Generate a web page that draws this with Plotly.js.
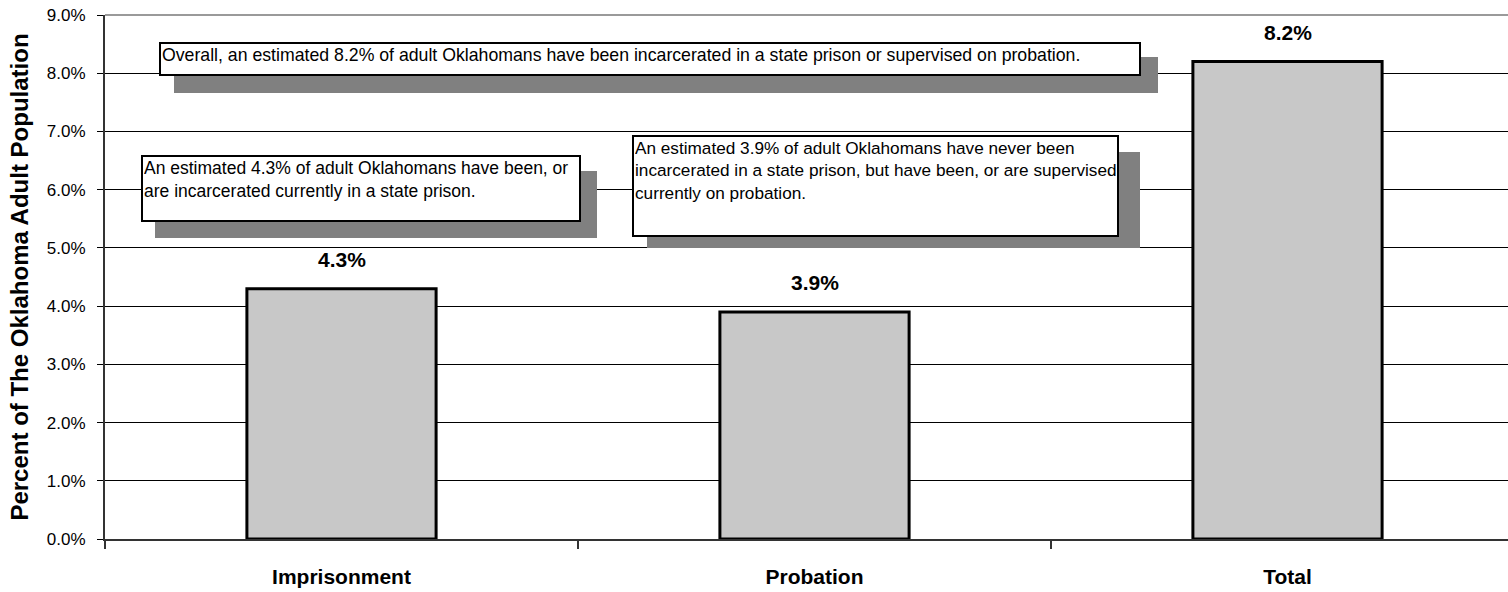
<!DOCTYPE html>
<html>
<head>
<meta charset="utf-8">
<script src="https://cdn.plot.ly/plotly-3.0.1.min.js"></script>
<style>
html,body{margin:0;padding:0;background:#fff;}
#chart{width:1508px;height:592px;}
</style>
</head>
<body>
<div id="chart"></div>
<script>
// ---- data ----
const categories = ['Imprisonment', 'Probation', 'Total'];
const values = [4.3, 3.9, 8.2];
const valueLabels = ['4.3%', '3.9%', '8.2%'];
const yTickValues = [0, 1, 2, 3, 4, 5, 6, 7, 8, 9];
const yTickLabels = ['0.0%', '1.0%', '2.0%', '3.0%', '4.0%', '5.0%', '6.0%', '7.0%', '8.0%', '9.0%'];
const noteTexts = [
  'Overall, an estimated 8.2% of adult Oklahomans have been incarcerated in a state prison or supervised on probation.',
  'An estimated 4.3% of adult Oklahomans have been, or<br>are incarcerated currently in a state prison.',
  'An estimated 3.9% of adult Oklahomans have never been<br>incarcerated in a state prison, but have been, or are supervised<br>currently on probation.'
];
const yTitle = 'Percent of The Oklahoma Adult Population';

// ---- layout helpers (pixel -> paper) ----
const W = 1508, H = 592;
const M = {l: 105, r: 0, t: 15, b: 53};
const PW = W - M.l - M.r, PH = H - M.t - M.b;
const px = x => (x - M.l) / PW;
const py = y => (H - M.b - y) / PH;

const FONT = '"Liberation Sans", Arial, sans-serif';

// note boxes: [left, top, right, bottom] in pixels, shadows likewise
const noteBoxes = [
  [159, 42, 1141, 76],
  [141, 155, 581, 222],
  [632, 135, 1119, 237]
];
const noteFontSizes = [17.7, 17.5, 17.2];
const shadowBoxes = [
  [174, 57, 1158, 93],
  [155, 171, 597, 238],
  [647, 152, 1140, 248]
];
const BW = 2, BP = 1;

const shapes = [
  {type: 'line', xref: 'paper', yref: 'paper', x0: 0, x1: 1, y0: 1, y1: 1,
   line: {color: '#9a9a9a', width: 2}, layer: 'above'}
];
shadowBoxes.forEach(b => shapes.push({
  type: 'rect', xref: 'paper', yref: 'paper',
  x0: px(b[0]), x1: px(b[2]), y0: py(b[3]), y1: py(b[1]),
  fillcolor: '#808080', line: {width: 0}, layer: 'above'
}));

const annotations = [];
noteBoxes.forEach((b, i) => annotations.push({
  xref: 'paper', yref: 'paper', x: px(b[0]), y: py(b[1]),
  xanchor: 'left', yanchor: 'top', align: 'left', valign: 'top',
  width: (b[2] - b[0]) - 2 * (BW + BP), height: (b[3] - b[1]) - 2 * (BW + BP),
  text: noteTexts[i], showarrow: false,
  bgcolor: '#ffffff', bordercolor: '#000000', borderwidth: BW, borderpad: BP,
  font: {family: FONT, size: noteFontSizes[i], color: '#000'}
}));
categories.forEach((c, i) => annotations.push({
  xref: 'x', yref: 'y', x: c, y: values[i], text: valueLabels[i],
  showarrow: false, yanchor: 'bottom', yshift: 16,
  font: {family: FONT, size: 21, color: '#000', weight: 'bold'}
}));

const trace = {
  type: 'bar', x: categories, y: values, width: 0.4,
  marker: {color: '#c8c8c8', line: {color: '#000', width: 3}},
  hoverinfo: 'skip'
};

const layout = {
  width: W, height: H,
  margin: M,
  paper_bgcolor: '#fff', plot_bgcolor: '#fff',
  showlegend: false,
  font: {family: FONT, color: '#000'},
  xaxis: {
    type: 'category', range: [-0.5, -0.5 + PW / 473],
    showline: true, linecolor: '#333', linewidth: 2,
    ticks: 'outside', ticklen: 8, tickcolor: '#333', tickwidth: 2,
    tickson: 'boundaries', showgrid: false,
    tickfont: {family: FONT, size: 21, color: '#000', weight: 'bold'},
    ticklabelstandoff: 18
  },
  yaxis: {
    range: [0, 9], tickvals: yTickValues, ticktext: yTickLabels,
    showline: true, linecolor: '#333', linewidth: 2,
    ticks: 'outside', ticklen: 6, tickcolor: '#000', tickwidth: 1,
    showgrid: true, gridcolor: '#000', gridwidth: 1, zeroline: false,
    tickfont: {family: FONT, size: 17, color: '#000'},
    ticklabelstandoff: 8,
    title: {text: yTitle, font: {family: FONT, size: 24, color: '#000', weight: 'bold'}, standoff: 11}
  },
  shapes: shapes,
  annotations: annotations
};

Plotly.newPlot('chart', [trace], layout, {displayModeBar: false, staticPlot: true});
</script>
</body>
</html>
